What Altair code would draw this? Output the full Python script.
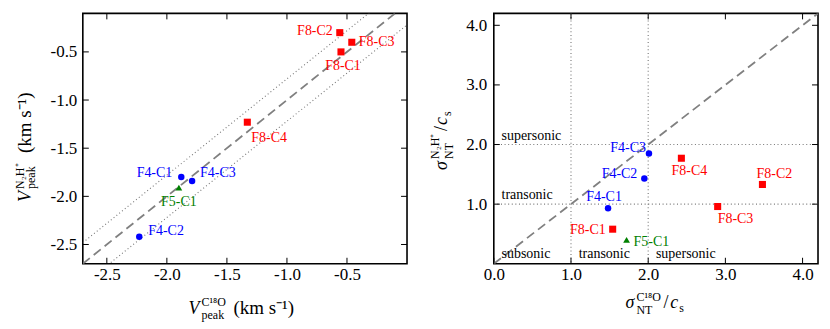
import altair as alt
import pandas as pd

FONT = "Liberation Serif, Times New Roman, serif"

# ---------------- data ----------------
names = ["F8-C1", "F8-C2", "F8-C3", "F8-C4", "F4-C1", "F4-C2", "F4-C3", "F5-C1"]
fields = ["F8", "F8", "F8", "F8", "F4", "F4", "F4", "F5"]
# left panel: peak velocities (km/s)
vpeak_c18o = [-0.55, -0.56, -0.46, -1.33, -1.88, -2.23, -1.79, -1.90]
vpeak_n2h = [-0.50, -0.30, -0.40, -1.23, -1.80, -2.42, -1.84, -1.91]
# right panel: sigma_NT / c_s
signt_c18o = [1.54, 3.48, 2.90, 2.43, 1.48, 1.95, 2.01, 1.72]
signt_n2h = [0.58, 1.33, 0.96, 1.77, 0.93, 1.43, 1.85, 0.40]

field_domain = ["F4", "F5", "F8"]
field_colors = ["#0000ff", "#008000", "#ff0000"]
field_shapes = ["circle", "triangle-up", "square"]
field_sizes = [42, 50, 62]

left_xticks = [-2.5, -2.0, -1.5, -1.0, -0.5]
left_yticks = [-2.5, -2.0, -1.5, -1.0, -0.5]
right_xticks = [0.0, 1.0, 2.0, 3.0, 4.0]
right_yticks = [1.0, 2.0, 3.0, 4.0]

left_line_x = [-2.7, 0.0]
left_band = 0.22
right_line_x = [0.0, 4.2]
right_thresholds = [1.0, 2.0]

regime_text = ["supersonic", "transonic", "subsonic", "transonic", "supersonic"]
regime_x = [0.1, 0.1, 0.1, 1.1, 2.1]
regime_y = [2.15, 1.15, 0.16, 0.16, 0.16]

# label placement (align, dx, dy)
left_place = {
    "F8-C2": ("right", -7, -2), "F8-C3": ("left", 7, 0), "F8-C1": ("center", 2, 14),
    "F8-C4": ("left", 4, 16), "F4-C1": ("right", -9, -4), "F4-C3": ("left", 8, -8),
    "F5-C1": ("center", 0, 14), "F4-C2": ("left", 9, -6),
}
right_place = {
    "F4-C3": ("right", -3, -5), "F4-C2": ("right", -7, -5), "F4-C1": ("center", -4, -11),
    "F8-C4": ("center", 8, 13), "F8-C2": ("center", 12, -10), "F8-C3": ("left", 0, 13),
    "F8-C1": ("right", -7, 1), "F5-C1": ("left", 7, 2),
}

W, H = 325, 251
dummy = pd.DataFrame({"k": [0]})

COLOR = alt.Color("field:N", scale=alt.Scale(domain=field_domain, range=field_colors), legend=None)
SHAPE = alt.Shape("field:N", scale=alt.Scale(domain=field_domain, range=field_shapes), legend=None)
SIZE = alt.Size("field:N", scale=alt.Scale(domain=field_domain, range=field_sizes), legend=None)


def piece(s, x, y, size, italic=False, angle=0):
    return alt.Chart(dummy).mark_text(
        text=s, font=FONT, fontSize=size, fontStyle="italic" if italic else "normal",
        angle=angle, align="left", baseline="alphabetic", color="black",
    ).encode(x=alt.value(x), y=alt.value(y))


def panel(xs, ys, place, X, Y, xticks, yticks, guides, titles):
    df = pd.DataFrame({"name": names, "field": fields, "x": xs, "y": ys})
    pts = alt.Chart(df).mark_point(filled=True, opacity=1, strokeWidth=0).encode(
        x=X, y=Y, color=COLOR, shape=SHAPE, size=SIZE)
    labels = []
    for n in names:
        a, dx, dy = place[n]
        labels.append(alt.Chart(df).transform_filter(alt.datum.name == n).mark_text(
            font=FONT, fontSize=14, align=a, baseline="middle", dx=dx, dy=dy
        ).encode(x=X, y=Y, text="name:N", color=COLOR))
    txd = pd.DataFrame({"x": xticks})
    tyd = pd.DataFrame({"y": yticks})
    tk = [
        alt.Chart(txd).mark_rule(color="black", strokeWidth=1).encode(x=X, y=alt.value(H), y2=alt.value(H - 6)),
        alt.Chart(txd).mark_rule(color="black", strokeWidth=1).encode(x=X, y=alt.value(0), y2=alt.value(6)),
        alt.Chart(tyd).mark_rule(color="black", strokeWidth=1).encode(y=Y, x=alt.value(0), x2=alt.value(6)),
        alt.Chart(tyd).mark_rule(color="black", strokeWidth=1).encode(y=Y, x=alt.value(W), x2=alt.value(W - 6)),
    ]
    return alt.layer(*guides, pts, *labels, *tk, *titles).properties(width=W, height=H)


# ---------------- left panel ----------------
LSX = alt.Scale(domain=[-2.7, 0.0], nice=False, zero=False)
LSY = alt.Scale(domain=[-2.7, -0.1], nice=False, zero=False)
hyph = "(datum.value < 0 ? '-' : '') + format(abs(datum.value), '.1f')"
LAX = alt.Axis(values=left_xticks, title=None, labelExpr=hyph, labelPadding=3, labelFlush=False,
               labelFont=FONT, labelFontSize=17, labelColor="black",
               ticks=False, tickSize=0, domain=False, grid=False)
LAY = alt.Axis(values=left_yticks, title=None, labelExpr=hyph, labelPadding=6, labelFlush=False,
               labelFont=FONT, labelFontSize=17, labelColor="black",
               ticks=False, tickSize=0, domain=False, grid=False)
LX = alt.X("x:Q", scale=LSX, axis=LAX)
LY = alt.Y("y:Q", scale=LSY, axis=LAY)

ld = pd.DataFrame({"x": left_line_x, "y": left_line_x})
ldu = pd.DataFrame({"x": left_line_x, "y": [v + left_band for v in left_line_x]})
ldl = pd.DataFrame({"x": left_line_x, "y": [v - left_band for v in left_line_x]})
DOT = dict(color="#777777", strokeWidth=1.1, strokeDash=[1, 2.6])
left_guides = [
    alt.Chart(ldu).mark_line(clip=True, **DOT).encode(x=LX, y=LY),
    alt.Chart(ldl).mark_line(clip=True, **DOT).encode(x=LX, y=LY),
    alt.Chart(ld).mark_line(clip=True, color="#808080", strokeWidth=1.8, strokeDash=[9, 5]).encode(x=LX, y=LY),
]
left_titles = [
    piece("V", -52, 189, 18, italic=True, angle=270),
    piece("N\u2082H\u207a", -59, 176, 12, angle=270),
    piece("peak", -48, 176, 12, angle=270),
    piece("(km s\u207b\u00b9)", -52, 140, 19, angle=270),
    piece("V", 106, 301, 18, italic=True),
    piece("C\u00b9\u2078O", 119, 293, 12),
    piece("peak", 119, 306, 12),
    piece("(km s\u207b\u00b9)", 151, 301, 19),
]
left = panel(vpeak_c18o, vpeak_n2h, left_place, LX, LY, left_xticks, left_yticks, left_guides, left_titles)

# ---------------- right panel ----------------
RSX = alt.Scale(domain=[0.0, 4.2], nice=False, zero=False)
RSY = alt.Scale(domain=[0.0, 4.2], nice=False, zero=False)
RAX = alt.Axis(values=right_xticks, title=None, format=".1f", labelPadding=3, labelFlush=False,
               labelFont=FONT, labelFontSize=17, labelColor="black",
               ticks=False, tickSize=0, domain=False, grid=False)
RAY = alt.Axis(values=right_yticks, title=None, format=".1f", labelPadding=7, labelFlush=False,
               labelFont=FONT, labelFontSize=17, labelColor="black",
               ticks=False, tickSize=0, domain=False, grid=False)
RX = alt.X("x:Q", scale=RSX, axis=RAX)
RY = alt.Y("y:Q", scale=RSY, axis=RAY)

rd = pd.DataFrame({"x": right_line_x, "y": right_line_x})
thx = pd.DataFrame({"x": right_thresholds})
thy = pd.DataFrame({"y": right_thresholds})
rt = pd.DataFrame({"t": regime_text, "x": regime_x, "y": regime_y})
right_guides = [
    alt.Chart(thx).mark_rule(**DOT).encode(x=RX),
    alt.Chart(thy).mark_rule(**DOT).encode(y=RY),
    alt.Chart(rd).mark_line(clip=True, color="#808080", strokeWidth=1.8, strokeDash=[9, 5]).encode(x=RX, y=RY),
    alt.Chart(rt).mark_text(font=FONT, fontSize=14, align="left", baseline="middle", color="black").encode(
        x=RX, y=RY, text="t:N"),
]
right_titles = [
    piece("\u03c3", -47, 157, 18, italic=True, angle=270),
    piece("N\u2082H\u207a", -55, 146, 12, angle=270),
    piece("NT", -41, 146, 12, angle=270),
    piece("/", -47, 118, 18, angle=270),
    piece("c", -47, 112, 18, italic=True, angle=270),
    piece("s", -43, 103, 12, angle=270),
    piece("\u03c3", 132, 295, 18, italic=True),
    piece("C\u00b9\u2078O", 143, 288, 12),
    piece("NT", 143, 301, 12),
    piece("/", 170, 295, 18),
    piece("c", 177, 295, 18, italic=True),
    piece("s", 186, 299, 12),
]
right = panel(signt_c18o, signt_n2h, right_place, RX, RY, right_xticks, right_yticks, right_guides, right_titles)

chart = alt.hconcat(left, right, spacing=87, bounds="flush").properties(
    padding={"left": 5, "top": 3, "right": 2, "bottom": 2}
).configure(font=FONT).configure_view(stroke="black", strokeWidth=1.6).configure_axis(
    labelFont=FONT, labelFontSize=17, labelColor="black"
)

chart.save("out.html", embed_options={"renderer": "svg", "actions": False})
